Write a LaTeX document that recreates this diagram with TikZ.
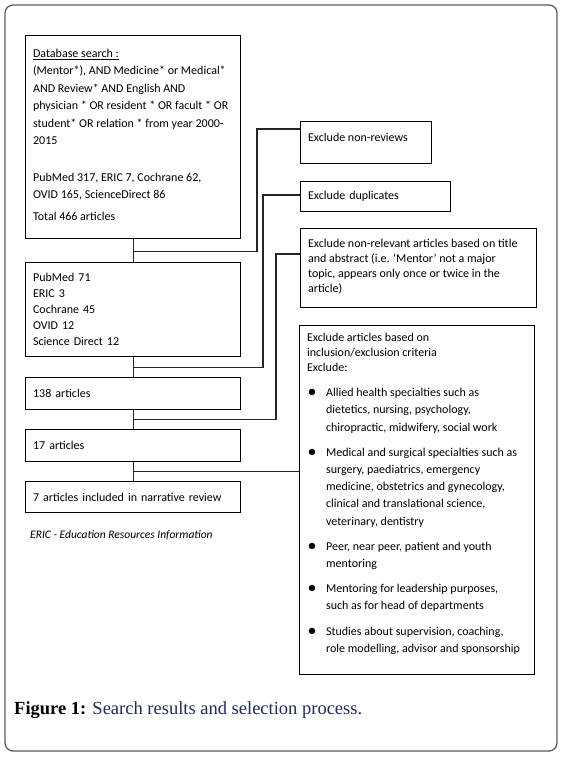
\documentclass[tikz,border=0pt]{standalone}
\usepackage{fontspec}
\setmainfont{Carlito}
\newfontfamily\captionfont{Liberation Serif}
\usetikzlibrary{calc}

% text of a box, pinned to the top: width, height, top padding, text
\newcommand{\topbox}[4]{\parbox[c][#2pt][t]{#1pt}{\vspace*{#3pt}\leftskip=7.5pt\rightskip=0pt plus 1fil\parindent=0pt #4\par}}
% one bullet of the criteria list
\newcommand{\critem}[1]{\par\vspace{8pt}\hangindent=19pt\hangafter=1\noindent\makebox[19pt][l]{\hspace{0.5pt}\raisebox{-1pt}{\fontsize{18}{0}\selectfont\textbullet}}#1}

\begin{document}
\begin{tikzpicture}[x=1pt, y=-1pt,
    box/.style={draw=black, line width=1.2pt, anchor=north west, inner sep=0pt},
    midbox/.style={box, inner xsep=7.5pt, text width=200pt, align=left,
        minimum width=215pt, font=\fontsize{12}{16}\selectfont},
    link/.style={draw=black!85, line width=1.2pt}]
    % Define colours
    \definecolor{frameColour}{HTML}{5C5C5C}
    \definecolor{captionColour}{HTML}{1E2C55}

    % Page and rounded frame
    \useasboundingbox (0,0) rectangle (563,757);
    \draw[frameColour, line width=1.3pt, rounded corners=8pt] (5,5) rectangle (557,751);

    % Left column: the search and its counts
    \node[box, font=\fontsize{12}{17.4}\selectfont] (search) at (25,35) {\topbox{215}{203}{13.5}{%
        \underline{Database search :}\\
        (Mentor*), AND Medicine* or Medical*\\
        AND Review* AND English AND\\
        physician * OR resident * OR facult * OR\\
        student* OR relation * from year 2000-\\
        2015\\[19.6pt]
        PubMed 317, ERIC 7, Cochrane 62,\\
        OVID 165, ScienceDirect 86\\[4.6pt]
        Total 466 articles}};
    \node[midbox, minimum height=94pt] (counts) at (25,262) {PubMed 71\\ ERIC 3\\ Cochrane 45\\ OVID 12\\ Science Direct 12};
    \node[midbox, minimum height=32pt] (n138) at (25,377) {138 articles};
    \node[midbox, minimum height=32pt] (n17) at (25,429) {17 articles};
    \node[midbox, minimum height=31pt] (n7) at (25,481) {7 articles included in narrative review};
    \node[anchor=west, inner sep=0pt, font=\fontsize{11.5}{13}\selectfont\itshape] (eric) at (30,535) {ERIC - Education Resources Information};

    % Right column: the exclusions
    \node[box, font=\fontsize{12}{14}\selectfont] (nonrev) at (300,121) {\topbox{131}{42}{11.5}{Exclude non-reviews}};
    \node[box, inner xsep=7.5pt, text width=135pt, align=left, minimum height=30pt,
        font=\fontsize{12}{14}\selectfont] (dup) at (300,181) {Exclude duplicates};
    \node[box, font=\fontsize{12}{15}\selectfont] (nonrel) at (300,228) {\topbox{236}{79}{10.5}{%
        Exclude non-relevant articles based on title\\
        and abstract (i.e. `Mentor' not a major\\
        topic, appears only once or twice in the\\
        article)}};
    \node[box, font=\fontsize{12}{17.2}\selectfont] (crit) at (299,325) {\topbox{235}{349}{7.5}{%
        {\fontsize{12}{15}\selectfont Exclude articles based on\\
        inclusion/exclusion criteria\\
        Exclude:\par}
        \critem{Allied health specialties such as\\ dietetics, nursing, psychology,\\ chiropractic, midwifery, social work}
        \critem{Medical and surgical specialties such as\\ surgery, paediatrics, emergency\\ medicine, obstetrics and gynecology,\\ clinical and translational science,\\ veterinary, dentistry}
        \critem{Peer, near peer, patient and youth\\ mentoring}
        \critem{Mentoring for leadership purposes,\\ such as for head of departments}
        \critem{Studies about supervision, coaching,\\ role modelling, advisor and sponsorship}}};

    % Trunk through the left column
    \draw[link] (search.south) -- (counts.north);
    \draw[link] (counts.south) -- (n138.north);
    \draw[link] (n138.south) -- (n17.north);
    \draw[link] (n17.south) -- (n7.north);

    % Junctions on the trunk
    \coordinate (j1) at ($(search.south)!0.55!(counts.north)$);
    \coordinate (j2) at ($(counts.south)!0.5!(n138.north)$);
    \coordinate (j3) at ($(n138.south)!0.5!(n17.north)$);
    \coordinate (j4) at ($(n17.south)!0.5!(n7.north)$);

    % Elbows of the branches
    \coordinate (e1) at (257,129);
    \coordinate (e2) at (263,195);
    \coordinate (e3) at (276,254);

    % Branches to the exclusions
    \draw[link] (j1) -| (e1) -- (e1 -| nonrev.west);
    \draw[link] (j2) -| (e2) -- (e2 -| dup.west);
    \draw[link] (j3) -| (e3) -- (e3 -| nonrel.west);
    \draw[link] (j4) -- (j4 -| crit.west);

    % Caption
    \node[anchor=base west, inner sep=0pt, font=\captionfont\fontsize{18.5}{20}\selectfont] (caption) at (14,714)
        {\textbf{Figure 1:} \textcolor{captionColour}{Search results and selection process.}};
\end{tikzpicture}
\end{document}
